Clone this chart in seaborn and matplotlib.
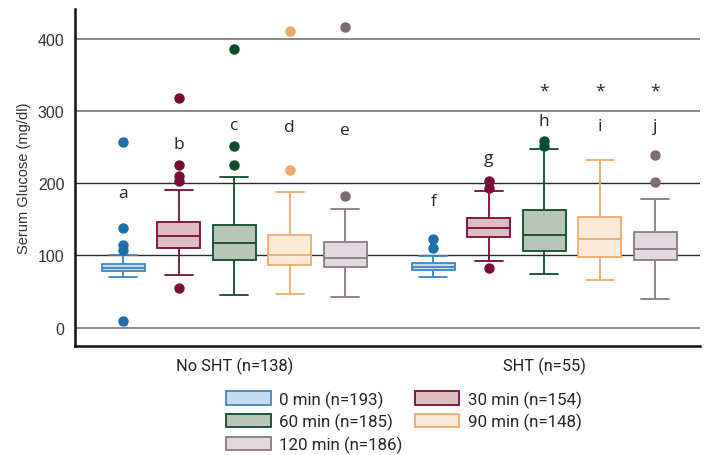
import numpy as np
import pandas as pd
import seaborn as sns
import matplotlib.pyplot as plt
from matplotlib.patches import Patch

groups = ['No SHT (n=138)', 'SHT (n=55)']
times = ['0 min (n=193)', '30 min (n=154)', '60 min (n=185)', '90 min (n=148)', '120 min (n=186)']

# box summaries: [No SHT values, SHT values], one per time point
q1 = [[78.5, 110.5, 94, 87, 84], [80, 125, 106, 97.5, 94]]
med = [[83, 127, 118, 101, 96], [84.5, 137.5, 128, 123, 109]]
q3 = [[88, 146, 142, 128, 118.5], [89, 151.5, 163.5, 153, 133]]
whisk_lo = [[70, 73, 45, 47, 42], [70, 92.5, 74, 66, 39.5]]
whisk_hi = [[101, 190.5, 209, 188.5, 165], [99, 190, 248, 232, 178]]
outliers = [
    [[9, 108, 115, 138, 257], [55, 203, 210, 225, 319], [225, 252, 387], [218, 411], [183, 417]],
    [[111, 123], [82, 193, 203], [252, 259], [], [202, 239]],
]

# letters above each box and the asterisks on SHT 60-120 min
letters = [['a', 'b', 'c', 'd', 'e'], ['f', 'g', 'h', 'i', 'j']]
letter_y = [[181, 249.5, 276, 272.5, 268], [170.5, 229.5, 281, 273.5, 273.5]]
star = [[False] * 5, [False, False, True, True, True]]
star_y = 323

faces = ['#c6d9ed', '#ddbcc2', '#b9c5b9', '#fbead9', '#e0d9de']
edges = ['#3f88c2', '#7a0b34', '#0c4d2c', '#f2a96c', '#8a7983']
dots = ['#1d6fab', '#7a0b34', '#0c4d2c', '#f0a866', '#7e6b77']


def expand(lo, a, m, b, hi, out):
    # build a small sample whose quartiles / whiskers / fliers match the summary
    low = sorted(v for v in out if v < lo) + [lo]
    high = [hi] + sorted(v for v in out if v > hi)
    k = max(len(low), len(high))
    low = low + [lo] * (k - len(low))
    high = [hi] * (k - len(high)) + high
    return low + [a] * k + [m] * k + [b] + high


rows = []
for g, grp in enumerate(groups):
    for t, tm in enumerate(times):
        vals = expand(whisk_lo[g][t], q1[g][t], med[g][t], q3[g][t], whisk_hi[g][t], outliers[g][t])
        rows += [(grp, tm, v) for v in vals]
df = pd.DataFrame(rows, columns=['group', 'time', 'glucose'])

sns.set_style('white')
plt.rcParams['font.family'] = ['Liberation Sans', 'DejaVu Sans']

fig, ax = plt.subplots(figsize=(7.05, 4.56), dpi=100)
fig.subplots_adjust(left=0.107, right=0.993, top=0.978, bottom=0.24)

sns.boxplot(data=df, x='group', y='glucose', hue='time', order=groups, hue_order=times,
            palette=faces, saturation=1, width=0.895, gap=0.225, linewidth=1.1,
            fliersize=6.5, whis=1.5, ax=ax, legend=False)

centers = []
for c in ax.containers:
    box = c.boxes[0]
    fc = box.get_facecolor()[:3]
    i = int(np.argmin([np.sum((np.array(fc) - np.array(plt.matplotlib.colors.to_rgb(f))) ** 2) for f in faces]))
    col = edges[i]
    for b in c.boxes:
        b.set_edgecolor(col)
        b.set_linewidth(1.3)
        ext = b.get_path().get_extents()
        centers.append((ext.x0 + ext.x1) / 2)
    for ln in list(c.medians) + list(c.whiskers) + list(c.caps):
        ln.set_color(col)
        ln.set_linewidth(1.3)
    for cap in c.caps:
        x = cap.get_xdata()
        mid = (x[0] + x[1]) / 2
        half = (x[1] - x[0]) / 2 * 1.3
        cap.set_xdata([mid - half, mid + half])
    for fl in c.fliers:
        fl.set_markerfacecolor(dots[i])
        fl.set_markeredgecolor(dots[i])
        fl.set_marker('o')

# box centres sorted along x -> (group, time) order
xs = sorted(centers)
for g in range(2):
    for t in range(5):
        x = xs[g * 5 + t]
        ax.text(x, letter_y[g][t], letters[g][t], ha='center', va='baseline',
                fontsize=12.5, color='#262626', family=['Open Sans', 'DejaVu Sans'])
        if star[g][t]:
            ax.text(x, star_y, '*', ha='center', va='baseline', fontsize=12.5,
                    color='#262626', family=['Open Sans', 'DejaVu Sans'])

ax.set_ylim(-25, 442)
ax.set_xlim(-0.513, 1.503)
ax.set_yticks([0, 100, 200, 300, 400])
ax.tick_params(axis='y', length=0, labelsize=11.5, labelcolor='#333333', pad=8)
ax.tick_params(axis='x', length=0, labelsize=11.8, labelcolor='#222222', pad=8)
for lab in ax.get_xticklabels():
    lab.set_family(['Roboto', 'DejaVu Sans'])
ax.set_xlabel('')
ax.set_ylabel('Serum Glucose (mg/dl)', fontsize=10.5, color='#333333', labelpad=5)

for y in [0, 100, 200, 300, 400]:
    dark = y in (100, 200)
    ax.axhline(y, color='#2a2a2a' if dark else '#8a8a8a', lw=1.0 if dark else 1.4, zorder=0)

sns.despine(ax=ax)
for s in ['left', 'bottom']:
    ax.spines[s].set_color('#111111')
    ax.spines[s].set_linewidth(1.8)

handles = [Patch(facecolor=faces[i], edgecolor=edges[i], linewidth=1.3, label=times[i]) for i in range(5)]
order = [0, 2, 4, 1, 3]
leg = fig.legend([handles[i] for i in order], [times[i] for i in order], ncol=2,
                 loc='upper center', bbox_to_anchor=(0.573, 0.142), frameon=False,
                 handlelength=2.65, handleheight=0.85, labelspacing=0.33, handletextpad=0.5,
                 columnspacing=0.7, borderaxespad=0, borderpad=0,
                 prop={'family': ['Roboto', 'DejaVu Sans'], 'size': 12.2})

fig.savefig('out.png', dpi=100)
